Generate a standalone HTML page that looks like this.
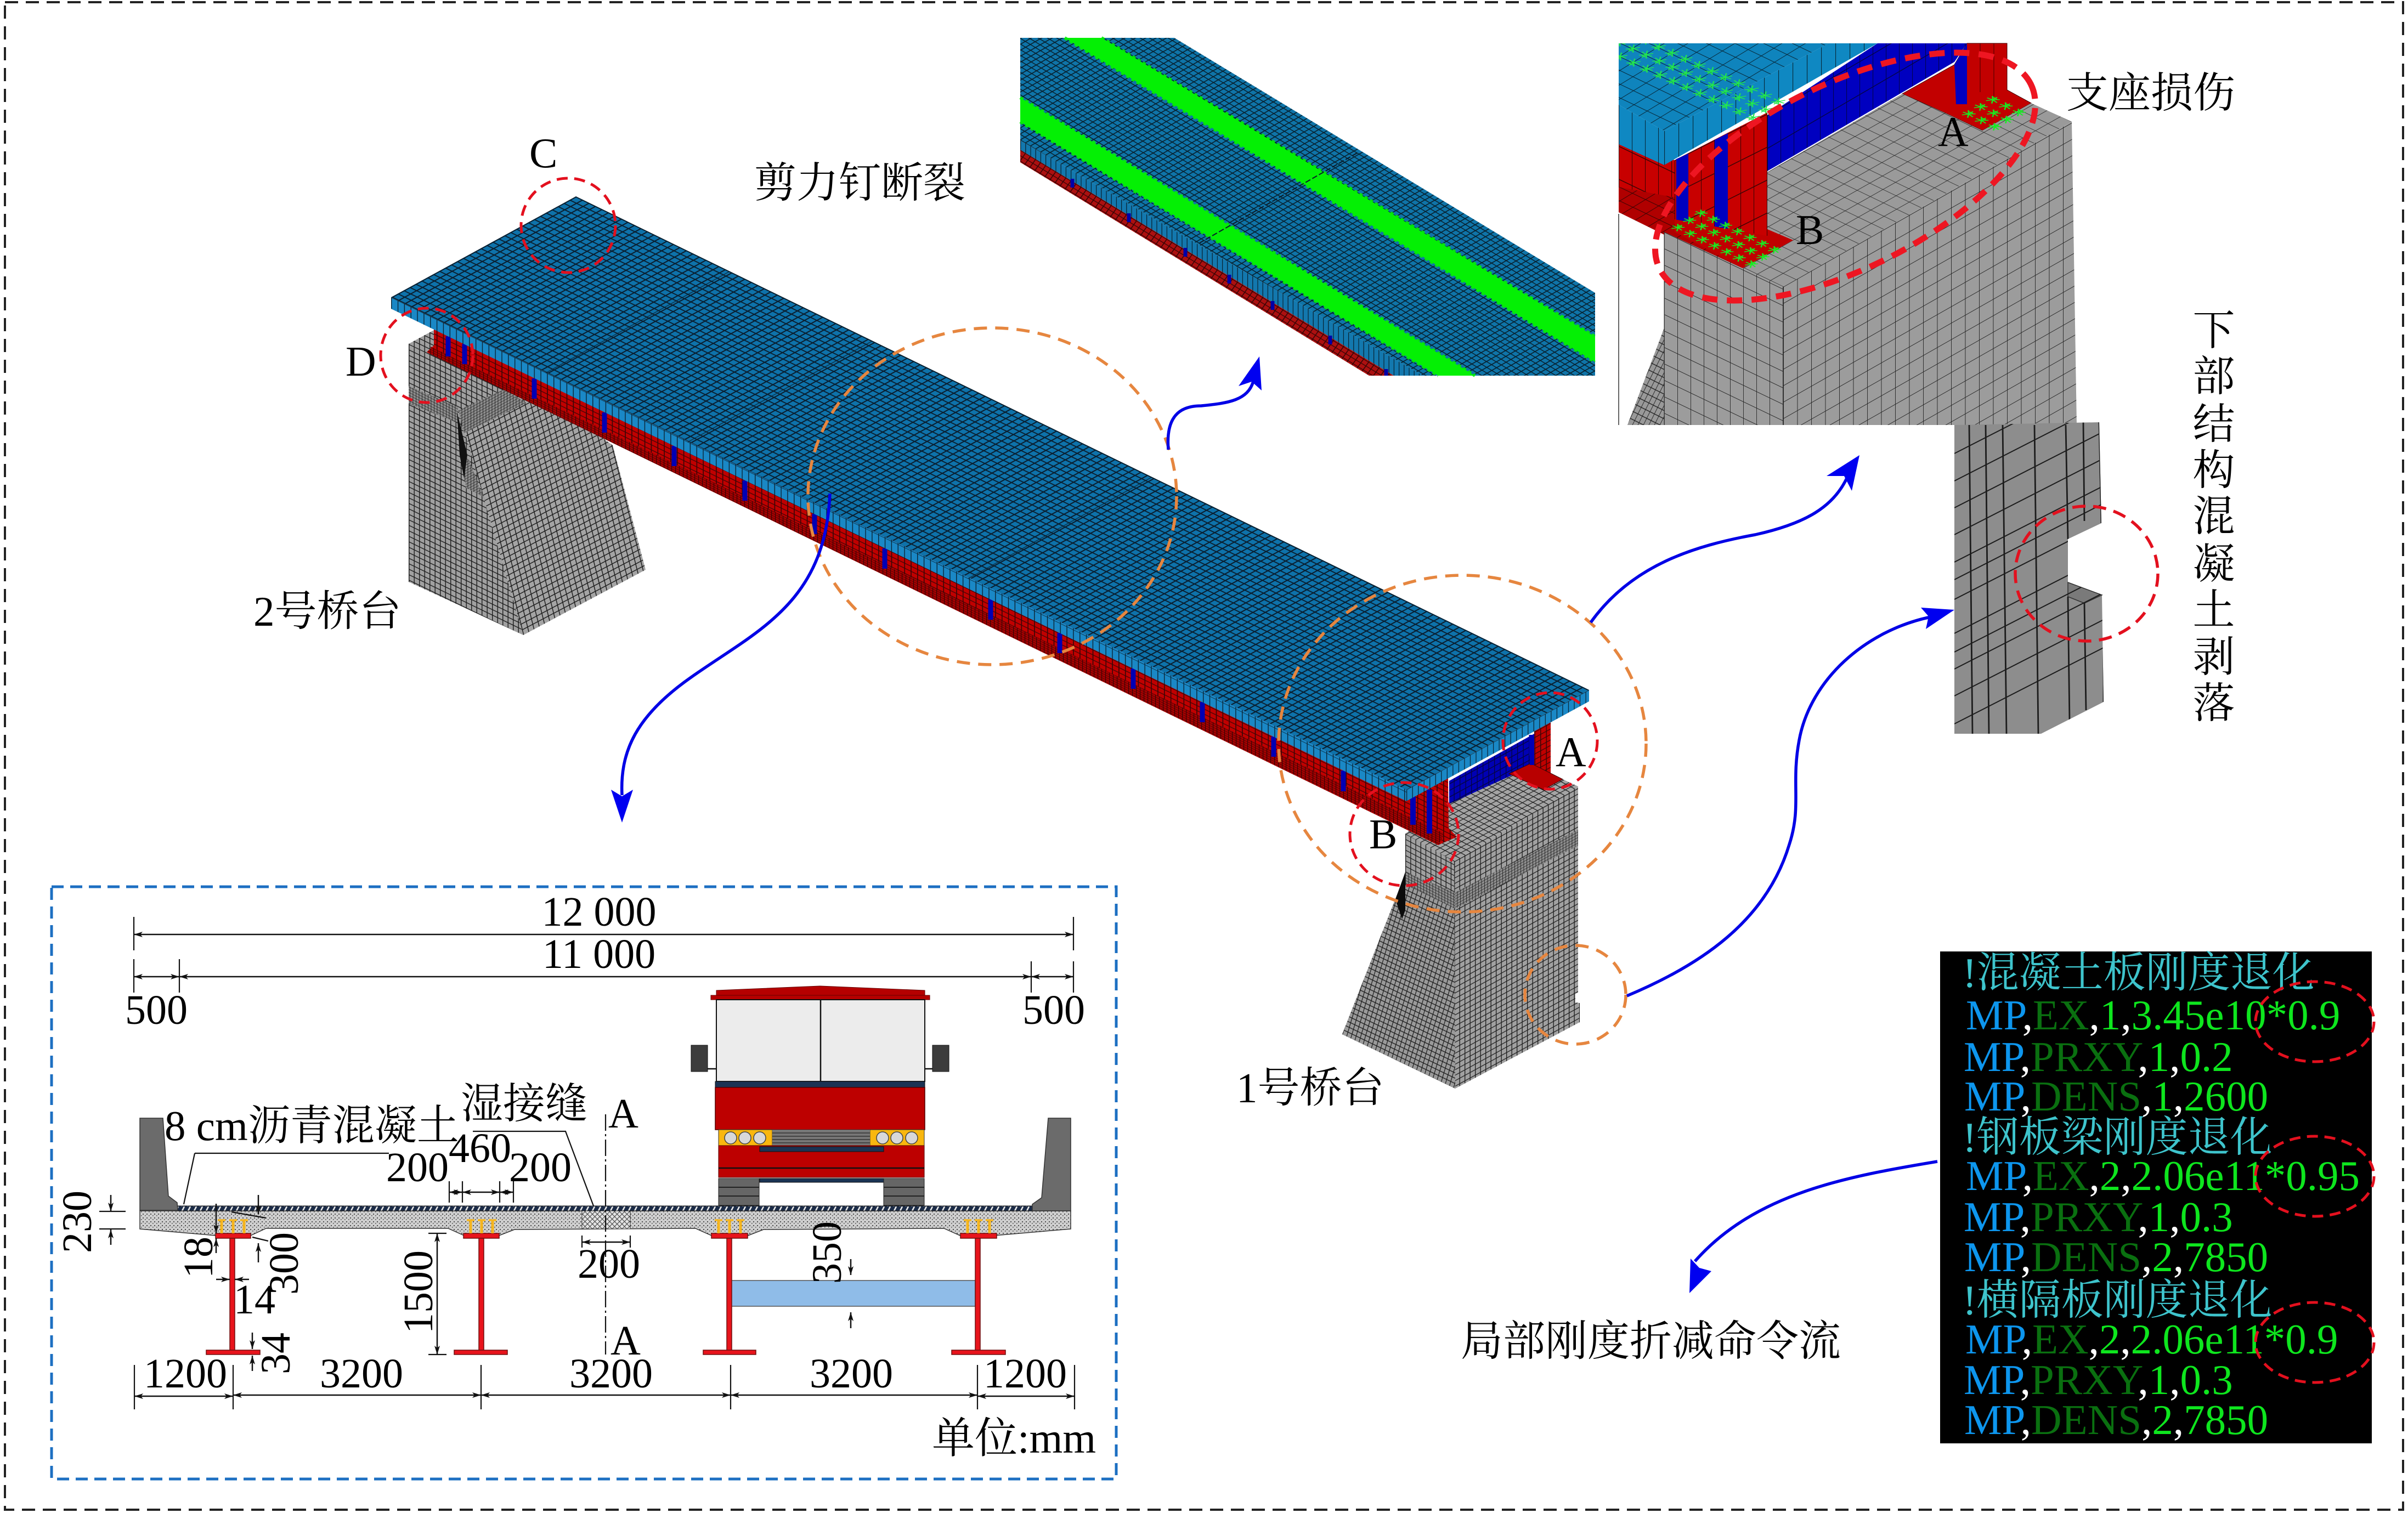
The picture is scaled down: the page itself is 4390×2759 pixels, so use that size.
<!DOCTYPE html>
<html lang="zh-CN">
<head>
<meta charset="utf-8">
<title>Bridge FE model diagram</title>
<style>
html,body{margin:0;padding:0;background:#fff}
svg{display:block}
text{font-family:"Liberation Serif","Noto Serif CJK SC",serif;fill:#000}
.t{font-size:77px}
.s{font-size:76px}
.cm{font-size:77px}
.d{fill:none;stroke:#111;stroke-width:2.5;marker-start:url(#ar);marker-end:url(#ar)}
.e{fill:none;stroke:#111;stroke-width:2.5;marker-end:url(#ar)}
.k{fill:none;stroke:#111;stroke-width:2.2}
.or{fill:none;stroke:#e6863f;stroke-width:5.5;stroke-dasharray:24 15}
.rd{fill:none;stroke:#e3101e;stroke-width:5;stroke-dasharray:20 12}
.bl{fill:none;stroke:#0000e6;stroke-width:5.5}
.bh{fill:#0000f0}
.g{fill:#e8141c;stroke:#701010;stroke-width:1.5}
.y{fill:none;stroke:#f5b51e;stroke-width:5}
</style>
</head>
<body>
<svg xmlns="http://www.w3.org/2000/svg" width="4390" height="2759" viewBox="0 0 4390 2759">
<defs>
<marker id="ar" markerUnits="userSpaceOnUse" markerWidth="18" markerHeight="12" refX="16" refY="6" orient="auto-start-reverse"><path d="M0 1L16 6L0 11L4 6Z" fill="#111"/></marker>

<clipPath id="cI3"><polygon points="3563,775,3827,770,3831,954,3770,983,3770,1062,3832,1085,3835,1280,3721,1338,3563,1338"/></clipPath>

<pattern id="deck" width="10" height="10" patternUnits="userSpaceOnUse" patternTransform="matrix(1.184 .577 -1.08 .59 1050 358)"><rect width="10" height="10" fill="#0e72aa"/><path d="M0 0H10V1.9H0ZM0 0H1.9V10H0Z" fill="#0a1f30"/></pattern>
<pattern id="sideL" width="10" height="10" patternUnits="userSpaceOnUse" patternTransform="matrix(1.184 .577 0 2.1 713 542)"><rect width="10" height="10" fill="#1a88c6"/><path d="M0 0H1.2V10H0ZM0 0H10V.4H0Z" fill="#0a2536"/></pattern>
<pattern id="sideR" width="10" height="10" patternUnits="userSpaceOnUse" patternTransform="matrix(1.053 -.575 0 2.1 2564 1440)"><rect width="10" height="10" fill="#1a88c6"/><path d="M0 0H1.2V10H0ZM0 0H10V.4H0Z" fill="#0a2536"/></pattern>
<pattern id="red" width="10" height="10" patternUnits="userSpaceOnUse" patternTransform="matrix(1.184 .577 0 .92 713 570)"><rect width="10" height="10" fill="#c00000"/><path d="M0 0H1.4V10H0ZM0 0H10V1.4H0Z" fill="#3a0606"/></pattern>
<pattern id="redD" width="10" height="10" patternUnits="userSpaceOnUse" patternTransform="matrix(.7 .34 0 .4 713 570)"><rect width="10" height="10" fill="#aa0000"/><path d="M0 0H1.5V10H0ZM0 0H10V2H0Z" fill="#300505"/></pattern>
<pattern id="redR" width="10" height="10" patternUnits="userSpaceOnUse" patternTransform="matrix(1.05 -.57 0 1 2640 1430)"><rect width="10" height="10" fill="#c00000"/><path d="M0 0H1.4V10H0ZM0 0H10V1.4H0Z" fill="#3a0606"/></pattern>
<pattern id="bluR" width="10" height="10" patternUnits="userSpaceOnUse" patternTransform="matrix(1.05 -.57 0 1.2 2640 1430)"><rect width="10" height="10" fill="#0000b4"/><path d="M0 0H1.2V10H0ZM0 0H10V1.2H0Z" fill="#050540"/></pattern>

<pattern id="gR" width="10" height="10" patternUnits="userSpaceOnUse" patternTransform="matrix(.95 -.52 0 1 2651 1571)"><rect width="10" height="10" fill="#a0a0a0"/><path d="M0 0H1.4V10H0ZM0 0H10V1.4H0Z" fill="#1c1c1c"/></pattern>
<pattern id="gL" width="10" height="10" patternUnits="userSpaceOnUse" patternTransform="matrix(.92 .48 0 .98 2562 1520)"><rect width="10" height="10" fill="#a0a0a0"/><path d="M0 0H1.4V10H0ZM0 0H10V1.4H0Z" fill="#1c1c1c"/></pattern>
<pattern id="gT" width="10" height="10" patternUnits="userSpaceOnUse" patternTransform="matrix(1 -.55 .92 .48 2651 1571)"><rect width="10" height="10" fill="#a4a4a4"/><path d="M0 0H1.3V10H0ZM0 0H10V1.3H0Z" fill="#1c1c1c"/></pattern>
<pattern id="gW" width="10" height="10" patternUnits="userSpaceOnUse" patternTransform="matrix(.75 .36 -.25 .85 2447 1886)"><rect width="10" height="10" fill="#9a9a9a"/><path d="M0 0H1.5V10H0ZM0 0H10V1.5H0Z" fill="#1c1c1c"/></pattern>
<pattern id="gF" width="10" height="10" patternUnits="userSpaceOnUse" patternTransform="matrix(.55 -.3 0 .5 2651 1640)"><rect width="10" height="10" fill="#8e8e8e"/><path d="M0 0H1.6V10H0ZM0 0H10V1.6H0Z" fill="#222"/></pattern>
<pattern id="gFl" width="10" height="10" patternUnits="userSpaceOnUse" patternTransform="matrix(.55 .28 0 .5 2562 1600)"><rect width="10" height="10" fill="#8e8e8e"/><path d="M0 0H1.6V10H0ZM0 0H10V1.6H0Z" fill="#222"/></pattern>
<pattern id="hL" width="10" height="10" patternUnits="userSpaceOnUse" patternTransform="matrix(.95 .46 0 1 745 627)"><rect width="10" height="10" fill="#a0a0a0"/><path d="M0 0H1.5V10H0ZM0 0H10V1.5H0Z" fill="#1c1c1c"/></pattern>
<pattern id="hF" width="10" height="10" patternUnits="userSpaceOnUse" patternTransform="matrix(.95 -.5 .25 1 954 1158)"><rect width="10" height="10" fill="#a4a4a4"/><path d="M0 0H1.4V10H0ZM0 0H10V1.4H0Z" fill="#1c1c1c"/></pattern>

<pattern id="i1" width="10" height="10" patternUnits="userSpaceOnUse" patternTransform="matrix(.92 .56 -.87 .5 1860 69)"><rect width="10" height="10" fill="#0f74a8"/><path d="M0 0H10V1.7H0ZM0 0H1.7V10H0Z" fill="#07202e"/></pattern>
<pattern id="i1s" width="10" height="10" patternUnits="userSpaceOnUse" patternTransform="matrix(.92 .56 0 2 1860 256)"><rect width="10" height="10" fill="#1378ae"/><path d="M0 0H1.3V10H0Z" fill="#07202e"/></pattern>
<pattern id="i1r" width="10" height="10" patternUnits="userSpaceOnUse" patternTransform="matrix(.92 .56 -.5 .7 1860 273)"><rect width="10" height="10" fill="#ac1010"/><path d="M0 0H10V1.5H0ZM0 0H1.5V10H0Z" fill="#3a0505"/></pattern>

<pattern id="mT" width="10" height="10" patternUnits="userSpaceOnUse" patternTransform="matrix(2.4 1.15 2.3 -1.4 2951 103)"><rect width="10" height="10" fill="#0f84bd"/><path d="M0 0H10V.4H0ZM0 0H.4V10H0Z" fill="#07202e"/></pattern>
<pattern id="mSL" width="10" height="10" patternUnits="userSpaceOnUse" patternTransform="matrix(2.4 1.15 0 6.2 2951 191)"><rect width="10" height="10" fill="#0f88c2"/><path d="M0 0H.4V10H0Z" fill="#07202e"/></pattern>
<pattern id="mSR" width="10" height="10" patternUnits="userSpaceOnUse" patternTransform="matrix(2.6 -1.4 0 6.2 3034 239)"><rect width="10" height="10" fill="#0f88c2"/><path d="M0 0H.4V10H0Z" fill="#07202e"/></pattern>
<pattern id="mR" width="10" height="10" patternUnits="userSpaceOnUse" patternTransform="matrix(2.4 -1.2 0 6 3053 292)"><rect width="10" height="10" fill="#c80000"/><path d="M0 0H.4V10H0ZM0 0H10V.25H0Z" fill="#300505"/></pattern>
<pattern id="mRL" width="10" height="10" patternUnits="userSpaceOnUse" patternTransform="matrix(2.4 1.15 0 6 2951 266)"><rect width="10" height="10" fill="#c80000"/><path d="M0 0H.4V10H0ZM0 0H10V.25H0Z" fill="#300505"/></pattern>
<pattern id="mF" width="10" height="10" patternUnits="userSpaceOnUse" patternTransform="matrix(2.4 1.15 2.3 -1.4 2951 341)"><rect width="10" height="10" fill="#b00000"/><path d="M0 0H10V.4H0ZM0 0H.4V10H0Z" fill="#300505"/></pattern>
<pattern id="mB" width="10" height="10" patternUnits="userSpaceOnUse" patternTransform="matrix(2.4 -1.4 0 6 3222 210)"><rect width="10" height="10" fill="#0000c0"/><path d="M0 0H.4V10H0ZM0 0H10V.25H0Z" fill="#050540"/></pattern>
<pattern id="mG" width="10" height="10" patternUnits="userSpaceOnUse" patternTransform="matrix(2.4 1.15 2.3 -1.3 3251 523)"><rect width="10" height="10" fill="#9a9a9a"/><path d="M0 0H10V.35H0ZM0 0H.35V10H0Z" fill="#222"/></pattern>
<pattern id="mGL" width="10" height="10" patternUnits="userSpaceOnUse" patternTransform="matrix(2.4 1.15 0 3 3034 423)"><rect width="10" height="10" fill="#9c9c9c"/><path d="M0 0H.35V10H0ZM0 0H10V.35H0Z" fill="#222"/></pattern>
<pattern id="mGR" width="10" height="10" patternUnits="userSpaceOnUse" patternTransform="matrix(2.55 -1.45 0 3 3251 523)"><rect width="10" height="10" fill="#9c9c9c"/><path d="M0 0H.35V10H0ZM0 0H10V.35H0Z" fill="#222"/></pattern>
<pattern id="mW" width="10" height="10" patternUnits="userSpaceOnUse" patternTransform="matrix(.8 .4 -.6 1.2 3034 598)"><rect width="10" height="10" fill="#999"/><path d="M0 0H1H1V10H0ZM0 0H10V1H0Z" fill="#222"/></pattern>

<pattern id="bB" width="10" height="10" patternUnits="userSpaceOnUse" patternTransform="matrix(2.23 1.11 -2.1 1.3 3100.4 377)"><path d="M5 5L2.2 2.2M5 5L5 1.4M5 5L7.8 2.2M5 5L1.2 5.6M5 5L8.8 5.6M2.8 8.2L5 5L7.2 8.2M3.6 3L6.4 3" fill="none" stroke="#14f020" stroke-width=".8"/></pattern>
<pattern id="bA" width="10" height="10" patternUnits="userSpaceOnUse" patternTransform="matrix(2.36 1.16 -2.2 1.3 3632.2 169.7)"><path d="M5 5L2.2 2.2M5 5L5 1.4M5 5L7.8 2.2M5 5L1.2 5.6M5 5L8.8 5.6M2.8 8.2L5 5L7.2 8.2M3.6 3L6.4 3" fill="none" stroke="#14f020" stroke-width=".8"/></pattern>
<pattern id="bT" width="10" height="10" patternUnits="userSpaceOnUse" patternTransform="matrix(2.42 1.11 2.3 -1.45 2930.4 104.7)"><path d="M5 5L2.2 2.2M5 5L5 1.4M5 5L7.8 2.2M5 5L1.2 5.6M5 5L8.8 5.6M2.8 8.2L5 5L7.2 8.2M3.6 3L6.4 3" fill="none" stroke="#22e84a" stroke-width=".7"/></pattern>

<pattern id="stip" width="7" height="7" patternUnits="userSpaceOnUse"><rect width="7" height="7" fill="#cfcfcf"/><path d="M1 1h2v2h-2zM5 4h1.6v1.6h-1.6z" fill="#4c4c4c"/></pattern>
<pattern id="asph" width="11" height="10" patternUnits="userSpaceOnUse"><rect width="11" height="10" fill="#1c2c48"/><path d="M1 10L6 0" stroke="#e8e8e8" stroke-width="2.6"/></pattern>
<pattern id="hat" width="9" height="9" patternUnits="userSpaceOnUse"><rect width="9" height="9" fill="#e4e4e4"/><path d="M0 9L9 0M0 0L9 9" stroke="#444" stroke-width="1.1"/></pattern>
</defs>

<rect width="4390" height="2759" fill="#fff"/>
<rect x="9" y="4" width="4372" height="2749" fill="none" stroke="#222" stroke-width="4" stroke-dasharray="24 14"/>

<!-- Abutment 2 -->
<polygon points="745,627,836,675,836,748,954,1158,745,1061" fill="url(#hL)"/>
<polygon points="745,627,791,602,880,650,836,675" fill="url(#hL)"/>
<polygon points="836,675,880,650,925,712,836,748" fill="url(#hL)"/>
<polygon points="836,748,919,710,1065,774,1117,812,1177,1039,954,1158" fill="url(#hF)"/>
<polygon points="745,704,835,742,835,771,745,736" fill="url(#gFl)"/>
<polygon points="836,748,919,710,960,735,845,790" fill="url(#gF)"/>
<polygon points="838,830,855,838,880,905,850,890" fill="url(#gF)"/>
<polygon points="833,750,852,830,846,872,838,830" fill="#111"/>

<!-- Abutment 1 -->
<polygon points="2562,1520,2651,1571,2653,1985,2447,1886,2562,1593" fill="url(#gL)"/>
<polygon points="2562,1593,2447,1886,2653,1985,2653,1657,2562,1612" fill="url(#gW)"/>
<polygon points="2651,1571,2877,1434,2877,1810,2872,1812,2872,1828,2880,1829,2880,1864,2653,1985" fill="url(#gR)"/>
<polygon points="2562,1520,2642,1466,2751,1411,2849,1421,2877,1434,2651,1571" fill="url(#gT)"/>
<polygon points="2651,1628,2877,1513,2877,1542,2653,1657" fill="url(#gF)"/>
<polygon points="2562,1590,2653,1628,2653,1657,2562,1612" fill="url(#gFl)"/>
<polygon points="2562,1590,2544,1640,2556,1676,2562,1660" fill="#0c0c0c"/>

<!-- Diaphragm & far girder -->
<polygon points="2642,1424,2797,1338,2797,1395,2642,1466" fill="url(#bluR)"/>
<polygon points="2797,1325,2827,1305,2827,1427,2797,1421" fill="url(#redR)"/>
<polygon points="2751,1411,2791,1392,2849,1421,2814,1440" fill="#b80000" stroke="#3a0606"/>
<path d="M2792 1340V1378" stroke="#0000b4" stroke-width="9"/>
<path d="M2793 1355V1395" stroke="#0000b4" stroke-width="8"/>

<!-- Near girder -->
<polygon points="791,598,2640,1420,2641,1510,2656,1526,2622,1541,785,646,778,642,791,630" fill="url(#red)"/>
<polygon points="785,632,2634,1520,2622,1541,785,646" fill="url(#redD)"/>
<path d="M817 613V650M847 627V664M974 690V727M1102 752V789M1229 813V850M1358 876V913M1485 937V974M1613 1000V1037M1806 1093V1130M1932 1154V1191M2066 1219V1256M2192 1280V1317M2322 1343V1380M2449 1405V1443" stroke="#0000b4" stroke-width="9" fill="none"/>
<path d="M2576 1453V1504M2606 1440V1520" stroke="#0000b4" stroke-width="10" fill="none"/>

<!-- Deck -->
<polygon points="713,542,2564,1440,2564,1461,713,563" fill="url(#sideL)"/>
<polygon points="2564,1440,2897,1258,2897,1279,2564,1461" fill="url(#sideR)"/>
<polygon points="1050,358,2897,1258,2564,1440,713,542" fill="url(#deck)"/>
<path d="M1060 364L2560 1095M1590 622L1254 806M1330 495L995 680M2100 870L1765 1055" stroke="#0a1c2a" stroke-width="1.5" fill="none" opacity=".7"/>

<!-- Inset 1: shear studs -->
<polygon points="1860,69,2141,69,2908,534,2908,685,2594,685,1860,256" fill="url(#i1)"/>
<polygon points="1941,69,2008,69,2908,614,2908,660" fill="#04f004"/>
<polygon points="1860,178,1860,222,2622,685,2689,685" fill="#04f004"/>
<path d="M1941 69L2908 660M2008 69L2908 614M1860 178L2689 685M1860 222L2622 685" fill="none" stroke="#04f004" stroke-width="6" stroke-dasharray="6 5" opacity=".9"/>
<polygon points="1860,256,2594,685,2541,685,1860,273" fill="url(#i1s)"/>
<polygon points="1860,273,2541,685,2496,685,1860,296" fill="url(#i1r)"/>
<path d="M2474 279L2187 443" stroke="#0a1c2a" stroke-width="2" stroke-dasharray="10 4"/>
<path d="M1955 326V342M2058 389V405M2161 452V468M2241 501V517M2320 549V565M2425 612V628M2527 673V685" stroke="#0000a8" stroke-width="7"/>

<!-- Inset 2: bearings -->
<path d="M2951 390V775" stroke="#333" stroke-width="1.5"/>
<polygon points="2951,263,3053,292,3053,423,2951,387" fill="url(#mRL)"/>
<polygon points="2951,341,3053,360,3222,418,3269,438,3177,489,3034,428,2951,387" fill="url(#mF)"/>
<polygon points="3222,210,3423,79,3586,79,3563,113,3222,312" fill="url(#mB)"/>
<path d="M3222 314L3468 171" stroke="#fff" stroke-width="2.5"/>
<path d="M3222 206L3356 118" stroke="#fff" stroke-width="1.5"/>
<polygon points="3468,171,3563,118,3586,79,3659,79,3659,164,3703,188,3614,238,3544,205" fill="#c20000" stroke="#400" stroke-width="1"/>
<polygon points="3563,118,3586,79,3586,190,3566,190" fill="#0000c0"/>
<path d="M3610 79V168M3635 79V176M3544 205L3614 238M3520 195L3590 228" stroke="#400" stroke-width="1" fill="none"/>
<polygon points="3222,314,3468,171,3544,205,3614,238,3703,188,3777,222,3251,523,3177,489,3269,438,3222,418" fill="url(#mG)"/>
<polygon points="3034,423,3177,489,3251,523,3251,775,3034,775" fill="url(#mGL)"/>
<polygon points="3251,523,3777,222,3786,775,3251,775" fill="url(#mGR)"/>
<polygon points="3034,598,2967,775,3034,775" fill="url(#mW)"/>
<path d="M3034 423V775" stroke="#333" stroke-width="1"/>
<polygon points="3053,292,3222,205,3222,433,3053,400" fill="url(#mR)"/>
<polygon points="3056,290,3078,280,3078,408,3056,402" fill="#0000c0"/>
<polygon points="3126,255,3150,243,3150,440,3126,420" fill="#0000c0"/>
<polygon points="3053,400,3053,423,3177,489,3269,438,3222,418,3222,430" fill="#c00000"/>
<polygon points="2951,79,3334,79,3034,239,2951,191" fill="url(#mT)"/>
<polygon points="2951,191,3034,239,3034,301,2951,263" fill="url(#mSL)"/>
<polygon points="3034,239,3334,79,3423,79,3034,301" fill="url(#mSR)"/>
<polygon points="3100.4,377,3256.5,454.7,3193.5,493.7,3037.4,416" fill="url(#bB)"/>
<polygon points="3632.2,169.7,3703,204.5,3637,243.5,3566.2,208.7" fill="url(#bA)"/>
<polygon points="2951,114,3196.6,226.8,3265.6,183.3,3029,79,2951,79" fill="url(#bT)"/>
<ellipse cx="3364" cy="322" rx="378" ry="168" transform="rotate(-26.5 3364 322)" fill="none" stroke="#ee1622" stroke-width="11" stroke-dasharray="28 17"/>

<!-- Inset 3: spalling -->
<polygon points="3563,775,3827,770,3831,954,3770,983,3770,1062,3832,1085,3835,1280,3721,1338,3563,1338" fill="#8d8d8d"/>
<polygon points="3770,1062,3832,1085,3800,1100,3770,1088" fill="#7a7a7a" stroke="#333" stroke-width="1.5"/>
<g clip-path="url(#cI3)">
<path d="M3590 775L3596 1338M3620 775L3626 1338M3651 775L3658 1338M3709 775L3716 1338M3766 775L3770 983M3770 1088L3773 1315M3798 770L3800 950M3800 1100L3803 1295M3827 770L3831 954M3835 1085V1280" fill="none" stroke="#1c1c1c" stroke-width="2.8"/>
<path d="M3563 827L3835 688M3563 877L3835 738M3563 926L3835 787M3563 975L3835 836M3563 1025L3835 886M3563 1057L3835 918M3563 1093L3835 954M3563 1155L3835 1016M3563 1189L3835 1050M3563 1220L3835 1081M3563 1269L3835 1130M3563 1320L3835 1181" fill="none" stroke="#1c1c1c" stroke-width="2"/>
</g>
<ellipse cx="3804" cy="1046" rx="130" ry="123" fill="none" stroke="#e3101e" stroke-width="5.5" stroke-dasharray="24 14"/>

<!-- Bridge callout circles -->
<ellipse cx="1809" cy="905" rx="336" ry="307" class="or"/>
<ellipse cx="2666" cy="1356" rx="335" ry="307" class="or"/>
<ellipse cx="2872" cy="1814" rx="92" ry="90" class="or"/>
<ellipse cx="1036" cy="411" rx="86" ry="86" class="rd"/>
<ellipse cx="778" cy="648" rx="84" ry="86" class="rd"/>
<ellipse cx="2826" cy="1351" rx="86" ry="88" class="rd"/>
<ellipse cx="2560" cy="1521" rx="99" ry="94" class="rd"/>

<!-- Blue arrows -->
<path class="bl" d="M1513 900C1505 1100 1380 1150 1260 1235C1160 1305 1130 1370 1134 1450"/>
<polygon class="bh" points="1134,1500,1114,1440,1134,1452,1154,1440"/>
<path class="bl" d="M2130 820C2125 760 2150 740 2190 740C2240 735 2275 730 2285 695"/>
<polygon class="bh" points="2296,650,2258,704,2282,696,2300,712"/>
<path class="bl" d="M2900 1135C2975 1030 3090 995 3200 975C3290 955 3345 925 3370 865"/>
<polygon class="bh" points="3390,830,3330,868,3362,868,3376,895"/>
<path class="bl" d="M2966 1816C3100 1760 3220 1680 3262 1540C3285 1470 3265 1430 3280 1350C3300 1240 3400 1150 3520 1125"/>
<polygon class="bh" points="3563,1112,3502,1108,3516,1124,3511,1147"/>
<path class="bl" d="M3532 2118C3370 2145 3200 2175 3090 2300"/>
<polygon class="bh" points="3080,2358,3082,2295,3098,2312,3120,2318"/>

<!-- Bridge labels -->
<text class="t" x="965" y="305">C</text>
<text class="t" x="630" y="685">D</text>
<text class="t" x="2836" y="1397">A</text>
<text class="t" x="2496" y="1547">B</text>
<text class="t" x="1375" y="360">剪力钉断裂</text>
<text class="t" x="462" y="1141">2号桥台</text>
<text class="t" x="2254" y="2010">1号桥台</text>
<text class="t" x="3767" y="196">支座损伤</text>
<text class="t" x="3533" y="266">A</text>
<text class="t" x="3274" y="445">B</text>
<g class="t" text-anchor="middle">
<text class="t" x="4036" y="629">下</text>
<text class="t" x="4036" y="713">部</text>
<text class="t" x="4036" y="800">结</text>
<text class="t" x="4036" y="884">构</text>
<text class="t" x="4036" y="968">混</text>
<text class="t" x="4036" y="1055">凝</text>
<text class="t" x="4036" y="1139">土</text>
<text class="t" x="4036" y="1225">剥</text>
<text class="t" x="4036" y="1309">落</text>
</g>
<text class="t" x="2663" y="2472">局部刚度折减命令流</text>

<!-- Code box -->
<rect x="3537" y="1735" width="787" height="897" fill="#000"/>
<g class="cm">
<text class="cm" x="3578" y="1800" style="fill:#3ec4cc">!混凝土板刚度退化</text>
<text class="cm" x="3584" y="1877"><tspan style="fill:#0d96ee">MP</tspan><tspan style="fill:#fff">,</tspan><tspan style="fill:#0a7010">EX</tspan><tspan style="fill:#fff">,</tspan><tspan style="fill:#0ee61e">1</tspan><tspan style="fill:#fff">,</tspan><tspan style="fill:#0ee61e">3.45e10*0.9</tspan></text>
<text class="cm" x="3580" y="1953"><tspan style="fill:#0d96ee">MP</tspan><tspan style="fill:#fff">,</tspan><tspan style="fill:#0a7010">PRXY</tspan><tspan style="fill:#fff">,</tspan><tspan style="fill:#0ee61e">1</tspan><tspan style="fill:#fff">,</tspan><tspan style="fill:#0ee61e">0.2</tspan></text>
<text class="cm" x="3581" y="2025"><tspan style="fill:#0d96ee">MP</tspan><tspan style="fill:#fff">,</tspan><tspan style="fill:#0a7010">DENS</tspan><tspan style="fill:#fff">,</tspan><tspan style="fill:#0ee61e">1</tspan><tspan style="fill:#fff">,</tspan><tspan style="fill:#0ee61e">2600</tspan></text>
<text class="cm" x="3578" y="2100" style="fill:#3ec4cc">!钢板梁刚度退化</text>
<text class="cm" x="3584" y="2170"><tspan style="fill:#0d96ee">MP</tspan><tspan style="fill:#fff">,</tspan><tspan style="fill:#0a7010">EX</tspan><tspan style="fill:#fff">,</tspan><tspan style="fill:#0ee61e">2</tspan><tspan style="fill:#fff">,</tspan><tspan style="fill:#0ee61e">2.06e11*0.95</tspan></text>
<text class="cm" x="3580" y="2245"><tspan style="fill:#0d96ee">MP</tspan><tspan style="fill:#fff">,</tspan><tspan style="fill:#0a7010">PRXY</tspan><tspan style="fill:#fff">,</tspan><tspan style="fill:#0ee61e">1</tspan><tspan style="fill:#fff">,</tspan><tspan style="fill:#0ee61e">0.3</tspan></text>
<text class="cm" x="3581" y="2318"><tspan style="fill:#0d96ee">MP</tspan><tspan style="fill:#fff">,</tspan><tspan style="fill:#0a7010">DENS</tspan><tspan style="fill:#fff">,</tspan><tspan style="fill:#0ee61e">2</tspan><tspan style="fill:#fff">,</tspan><tspan style="fill:#0ee61e">7850</tspan></text>
<text class="cm" x="3578" y="2397" style="fill:#3ec4cc">!横隔板刚度退化</text>
<text class="cm" x="3583" y="2468"><tspan style="fill:#0d96ee">MP</tspan><tspan style="fill:#fff">,</tspan><tspan style="fill:#0a7010">EX</tspan><tspan style="fill:#fff">,</tspan><tspan style="fill:#0ee61e">2</tspan><tspan style="fill:#fff">,</tspan><tspan style="fill:#0ee61e">2.06e11*0.9</tspan></text>
<text class="cm" x="3580" y="2542"><tspan style="fill:#0d96ee">MP</tspan><tspan style="fill:#fff">,</tspan><tspan style="fill:#0a7010">PRXY</tspan><tspan style="fill:#fff">,</tspan><tspan style="fill:#0ee61e">1</tspan><tspan style="fill:#fff">,</tspan><tspan style="fill:#0ee61e">0.3</tspan></text>
<text class="cm" x="3581" y="2615"><tspan style="fill:#0d96ee">MP</tspan><tspan style="fill:#fff">,</tspan><tspan style="fill:#0a7010">DENS</tspan><tspan style="fill:#fff">,</tspan><tspan style="fill:#0ee61e">2</tspan><tspan style="fill:#fff">,</tspan><tspan style="fill:#0ee61e">7850</tspan></text>
</g>
<ellipse cx="4220" cy="1863" rx="108" ry="73" class="rd"/>
<ellipse cx="4220" cy="2145" rx="108" ry="73" class="rd"/>
<ellipse cx="4220" cy="2448" rx="108" ry="73" class="rd"/>

<!-- Cross section box -->
<rect x="94" y="1617" width="1941" height="1080" fill="none" stroke="#1c6fc2" stroke-width="5" stroke-dasharray="22 12"/>

<!-- Bus -->
<polygon points="1306,1806,1495,1798,1686,1806,1686,1815,1306,1815" fill="#b50000" stroke="#600" stroke-width="1"/>
<rect x="1296" y="1815" width="399" height="8" fill="#b50000" stroke="#600" stroke-width="1"/>
<rect x="1306" y="1823" width="380" height="149" fill="#ececec" stroke="#111" stroke-width="2"/>
<path d="M1496 1823V1972" stroke="#111" stroke-width="2.5"/>
<rect x="1260" y="1906" width="30" height="48" fill="#3c3c3c" stroke="#111"/>
<rect x="1700" y="1906" width="30" height="48" fill="#3c3c3c" stroke="#111"/>
<path d="M1290 1949H1306M1686 1949H1700" stroke="#111" stroke-width="2.5"/>
<rect x="1304" y="1972" width="382" height="11" fill="#1b3354" stroke="#111"/>
<rect x="1304" y="1983" width="382" height="77" fill="#bd0000" stroke="#500" stroke-width="1.5"/>
<rect x="1310" y="2060" width="98" height="29" fill="#f9b70f" stroke="#333"/>
<rect x="1586" y="2060" width="99" height="29" fill="#f9b70f" stroke="#333"/>
<rect x="1408" y="2060" width="178" height="29" fill="#777"/>
<path d="M1408 2066H1586M1408 2072H1586M1408 2078H1586M1408 2084H1586" stroke="#333" stroke-width="1.5"/>
<rect x="1310" y="2089" width="375" height="58" fill="#bd0000" stroke="#500"/>
<path d="M1310 2130H1685" stroke="#111" stroke-width="2.5"/>
<rect x="1385" y="2091" width="226" height="9" fill="#1b3354" stroke="#111"/>
<rect x="1385" y="2149" width="226" height="7" fill="#1b3354" stroke="#111"/>
<rect x="1310" y="2149" width="74" height="49" fill="#666" stroke="#222"/>
<rect x="1611" y="2149" width="74" height="49" fill="#666" stroke="#222"/>
<path d="M1310 2165H1384M1310 2181H1384M1611 2165H1685M1611 2181H1685" stroke="#222" stroke-width="2"/>
<g fill="#d8d8d8" stroke="#444" stroke-width="1.5">
<circle cx="1332" cy="2075" r="11"/><circle cx="1358" cy="2075" r="11"/><circle cx="1385" cy="2075" r="11"/>
<circle cx="1609" cy="2075" r="11"/><circle cx="1635" cy="2075" r="11"/><circle cx="1662" cy="2075" r="11"/>
</g>

<!-- Section -->
<polygon points="255,2208,1952,2208,1952,2241,1813,2253,1750,2253,1721,2240,1392,2242,1364,2253,1297,2253,1268,2240,938,2242,910,2253,846,2253,817,2240,485,2240,457,2253,393,2253,255,2241" fill="url(#stip)" stroke="#333" stroke-width="1.5"/>
<rect x="1061" y="2208" width="88" height="33" fill="url(#hat)" stroke="#333" stroke-width="1"/>
<rect x="324" y="2199" width="1558" height="9" fill="url(#asph)" stroke="#111" stroke-width="1"/>
<polygon points="255,2039,297,2039,307,2181,323,2193,324,2207,255,2207" fill="#6b6b6b" stroke="#333" stroke-width="1.5"/>
<polygon points="1911,2039,1952,2039,1952,2208,1882,2208,1882,2196,1899,2184" fill="#6b6b6b" stroke="#333" stroke-width="1.5"/>

<rect x="1333" y="2335" width="445" height="47" fill="#8fbce8" stroke="#555" stroke-width="1.5"/>
<rect class="g" x="393" y="2249" width="64" height="9"/><rect class="g" x="419" y="2258" width="9" height="205"/><rect class="g" x="376" y="2462" width="98" height="8"/>
<rect class="g" x="845" y="2249" width="65" height="9"/><rect class="g" x="873" y="2258" width="9" height="205"/><rect class="g" x="828" y="2462" width="97" height="8"/>
<rect class="g" x="1297" y="2249" width="66" height="9"/><rect class="g" x="1325" y="2258" width="9" height="205"/><rect class="g" x="1282" y="2462" width="96" height="8"/>
<rect class="g" x="1751" y="2249" width="66" height="9"/><rect class="g" x="1778" y="2258" width="9" height="205"/><rect class="g" x="1735" y="2462" width="98" height="8"/>
<path class="y" d="M404 2226V2249M425 2226V2249M445 2226V2249M858 2226V2249M878 2226V2249M898 2226V2249M1310 2226V2249M1330 2226V2249M1350 2226V2249M1764 2226V2249M1784 2226V2249M1804 2226V2249"/>
<path d="M397 2225H411M418 2225H432M438 2225H452M851 2225H865M871 2225H885M891 2225H905M1303 2225H1317M1323 2225H1337M1343 2225H1357M1757 2225H1771M1777 2225H1791M1797 2225H1811" stroke="#f5b51e" stroke-width="3.5"/>

<!-- Dimensions -->
<path class="d" d="M244 1704H1957"/>
<path class="d" d="M327 1781H1880"/>
<path class="d" d="M244 1781H327"/>
<path class="d" d="M1880 1781H1957"/>
<path class="k" d="M244 1672V1733M1957 1672V1733M244 1749V1810M327 1749V1810M1880 1753V1810M1957 1753V1810"/>
<path class="d" d="M245 2546H425"/><path class="d" d="M425 2544H877"/><path class="d" d="M877 2544H1332"/><path class="d" d="M1332 2544H1782"/><path class="d" d="M1782 2546H1959"/>
<path class="k" d="M245 2489V2570M425 2489V2570M877 2489V2570M1332 2489V2570M1782 2489V2570M1959 2489V2570"/>
<path class="d" d="M819 2174H843"/><path class="d" d="M843 2174H911"/><path class="d" d="M911 2174H936"/>
<path class="k" d="M819 2154V2193M843 2154V2193M911 2154V2193M936 2154V2193"/>
<path class="e" d="M202 2179V2209"/><path class="e" d="M202 2270V2242"/><path class="k" d="M181 2209H229M181 2241H229"/>
<path class="e" d="M394 2195V2249"/><path class="e" d="M394 2285V2258"/>
<path class="e" d="M471 2179V2214"/><path class="e" d="M471 2302V2267"/><path class="k" d="M422 2210L485 2221M460 2256L489 2263"/>
<path class="e" d="M394 2333H419"/><path class="e" d="M454 2333H428"/>
<path class="d" d="M797 2249V2470"/><path class="k" d="M781 2249H814M781 2470H814"/>
<path class="e" d="M460 2430V2460"/><path class="e" d="M460 2500V2472"/>
<path class="d" d="M1061 2265H1149"/><path class="k" d="M1061 2253V2275M1149 2253V2275"/>
<path class="e" d="M1551 2296V2325"/><path class="e" d="M1551 2422V2393"/>
<path class="k" d="M355 2103H709M355 2103L335 2196M862 2063H1031L1082 2199"/>
<path d="M1104 2032V2470" stroke="#111" stroke-width="2.2" stroke-dasharray="30 6 4 6" fill="none"/>

<g>
<text class="s" x="1092" y="1688" text-anchor="middle">12 000</text>
<text class="s" x="1092" y="1765" text-anchor="middle">11 000</text>
<text class="s" x="285" y="1867" text-anchor="middle">500</text>
<text class="s" x="1921" y="1867" text-anchor="middle">500</text>
<text class="s" x="300" y="2079" style="font-size:77px">8 cm沥青混凝土</text>
<text class="s" x="840" y="2039" style="font-size:77px">湿接缝</text>
<text class="s" x="1109" y="2056">A</text>
<text class="s" x="1113" y="2470">A</text>
<text class="s" x="761" y="2154" text-anchor="middle">200</text>
<text class="s" x="875" y="2119" text-anchor="middle">460</text>
<text class="s" x="985" y="2154" text-anchor="middle">200</text>
<text class="s" x="1110" y="2330" text-anchor="middle">200</text>
<text class="s" x="426" y="2395">14</text>
<text class="s" x="262" y="2530">1200</text>
<text class="s" x="583" y="2530">3200</text>
<text class="s" x="1038" y="2530">3200</text>
<text class="s" x="1476" y="2530">3200</text>
<text class="s" x="1793" y="2530">1200</text>
<text class="s" x="1699" y="2649" style="font-size:78px">单位:mm</text>
<text class="s" transform="translate(166 2228) rotate(-90)" text-anchor="middle">230</text>
<text class="s" transform="translate(387 2293) rotate(-90)" text-anchor="middle">18</text>
<text class="s" transform="translate(543 2304) rotate(-90)" text-anchor="middle">300</text>
<text class="s" transform="translate(788 2356) rotate(-90)" text-anchor="middle">1500</text>
<text class="s" transform="translate(528 2468) rotate(-90)" text-anchor="middle">34</text>
<text class="s" transform="translate(1533 2284) rotate(-90)" text-anchor="middle">350</text>
</g>
</svg>
</body>
</html>
